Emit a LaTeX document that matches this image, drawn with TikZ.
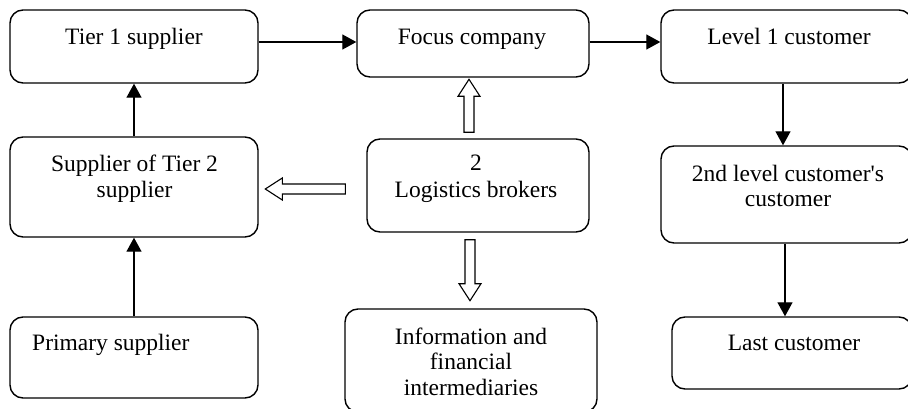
\documentclass[tikz,border=0pt]{standalone}
\usepackage{fontspec}
\setmainfont{Liberation Serif}
\usetikzlibrary{arrows.meta,calc}
\begin{document}
\begin{tikzpicture}[x=1pt,y=-1pt,
  box/.style={draw, line width=1.4pt, rounded corners=13pt, inner sep=0pt},
  lbl/.style={font=\fontsize{23.5}{25.5}\selectfont, align=center, anchor=base, inner sep=0pt},
  flow/.style={line width=1.3pt, -{Triangle[length=14pt,width=15pt]}},
  hollowline/.style={line width=1.1pt, line join=miter, fill=white},
  pics/hollowarrow/.style={code={%
    \draw[hollowline] (0,-5) -- (#1-17,-5) -- (#1-17,-11) -- (#1,0)
      -- (#1-17,11) -- (#1-17,5) -- (0,5) -- cycle;}}
]
\useasboundingbox (0,0) rectangle (908,409);
\begin{scope}
\clip (0,0) rectangle (908,409);

% boxes
\node[box, minimum width=248pt, minimum height=73pt]  (t1)   at (134,46.5)  {};
\node[box, minimum width=232pt, minimum height=67pt]  (fc)   at (473,43.5)  {};
\node[box, minimum width=251pt, minimum height=73pt]  (l1)   at (786.5,46.5) {};
\node[box, minimum width=248pt, minimum height=100pt] (s2)   at (134,187)   {};
\node[box, minimum width=222pt, minimum height=93pt]  (lb)   at (478,185.5) {};
\node[box, minimum width=251pt, minimum height=97pt]  (c2)   at (786.5,194.5) {};
\node[box, minimum width=248pt, minimum height=81pt]  (ps)   at (134,357.5) {};
\node[box, minimum width=252pt, minimum height=103pt] (info) at (471,360.5) {};
\node[box, minimum width=240pt, minimum height=72pt]  (lc)   at (792,353)   {};

% labels (base = baseline of the last line)
\node[lbl] (t1txt) at (134,45)  {Tier 1 supplier};
\node[lbl] (fctxt) at (472,45)  {Focus company};
\node[lbl] (l1txt) at (789,45)  {Level 1 customer};
\node[lbl] (s2txt) at (134.5,197) {Supplier of Tier 2\\supplier};
\node[lbl] (lbtxt) at (476,197) {2\\[1.5pt]Logistics brokers};
\node[lbl] (c2txt) at (788,207) {2nd level customer\textquotesingle s\\customer};
\node[lbl, anchor=base west] (pstxt) at (32,350) {Primary supplier};
\node[lbl] (infotxt) at (471,395) {Information and\\financial\\intermediaries};
\node[lbl] (lctxt) at (794,350) {Last customer};

% flows
\draw[flow] (t1.east |- 0,42) -- (fc.west |- 0,42);
\draw[flow] (fc.east |- 0,42) -- (l1.west |- 0,42);
\draw[flow] (s2.north) -- (t1.south);
\draw[flow] (ps.north) -- (s2.south);
\draw[flow] (l1.south -| 783,0) -- (c2.north -| 783,0);
\draw[flow] (c2.south -| 785,0) -- (lc.north -| 785,0);

% broker arrows
\pic[rotate=90]  at ($(lb.north)+(-9,-6)$)  {hollowarrow=53};
\pic[rotate=180] at ($(lb.west)+(-21,3.5)$) {hollowarrow=80};
\pic[rotate=-90] at ($(lb.south)+(-8,7)$)   {hollowarrow=61};
\end{scope}
\end{tikzpicture}
\end{document}
